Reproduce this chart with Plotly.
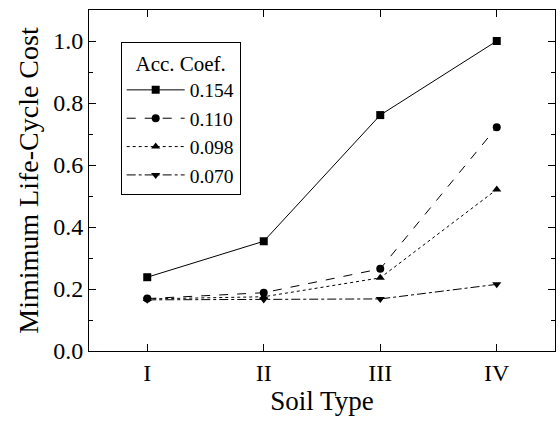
import plotly.graph_objects as go

soil_types = ["I", "II", "III", "IV"]
acc_coefs = ["0.154", "0.110", "0.098", "0.070"]
cost_0154 = [0.238, 0.354, 0.761, 1.000]
cost_0110 = [0.169, 0.188, 0.265, 0.722]
cost_0098 = [0.168, 0.175, 0.236, 0.521]
cost_0070 = [0.165, 0.166, 0.168, 0.215]

series = [cost_0154, cost_0110, cost_0098, cost_0070]
dashes = ["solid", "dash", "dot", "dashdot"]
symbols = ["square", "circle", "triangle-up", "triangle-down"]

fig = go.Figure()
for name, vals, dash, sym in zip(acc_coefs, series, dashes, symbols):
    fig.add_trace(go.Scatter(
        x=soil_types, y=vals, name=name, mode="lines+markers",
        line=dict(color="black", width=1, dash=dash),
        marker=dict(symbol=sym, size=8, color="black"),
    ))

font = "Liberation Serif, Times New Roman, serif"
fig.update_layout(
    width=560, height=425,
    margin=dict(l=89, r=5, t=10, b=74),
    paper_bgcolor="white", plot_bgcolor="white",
    font=dict(family=font, color="black", size=22),
    showlegend=True,
    legend=dict(
        x=0.068, y=0.905, xanchor="left", yanchor="top",
        bordercolor="black", borderwidth=1, bgcolor="white",
        font=dict(size=19.5, family=font),
        title=dict(text="Acc. Coef.", side="top center", font=dict(size=21, family=font)),
        itemwidth=58, tracegroupgap=0,
    ),
    xaxis=dict(
        type="category", range=[-0.5, 3.5],
        showline=True, linecolor="black", linewidth=1, mirror="allticks",
        ticks="inside", ticklen=7, tickcolor="black",
        showgrid=False, zeroline=False,
        tickfont=dict(size=24),
        title=dict(text="Soil Type", font=dict(size=27), standoff=1),
    ),
    yaxis=dict(
        range=[0, 1.1], dtick=0.2, tick0=0, tickformat=".1f",
        showline=True, linecolor="black", linewidth=1, mirror="allticks",
        ticks="inside", ticklen=7, tickcolor="black",
        minor=dict(ticks="inside", ticklen=4, dtick=0.1, tickcolor="black", showgrid=False),
        showgrid=False, zeroline=False,
        tickfont=dict(size=24),
        title=dict(text="Mimimum Life-Cycle Cost", font=dict(size=28), standoff=6),
    ),
)

fig.write_html("out.html")
